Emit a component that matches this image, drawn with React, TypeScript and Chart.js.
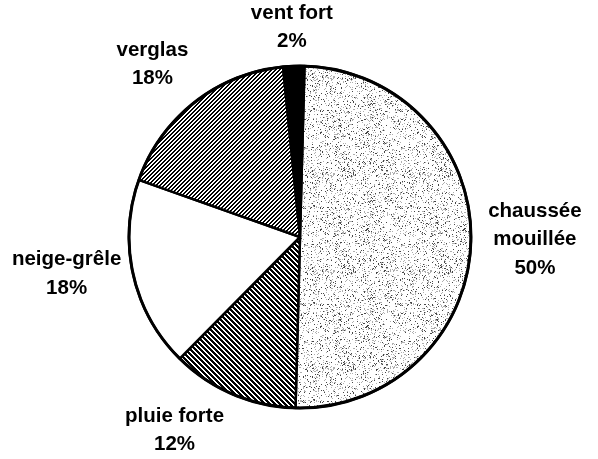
import React, { useEffect, useRef } from "react";
import { Chart, registerables } from "chart.js";

Chart.register(...registerables);

const categories: string[][] = [
  ["chaussée", "mouillée"],
  ["pluie forte"],
  ["neige-grêle"],
  ["verglas"],
  ["vent fort"],
];
const values: number[] = [50, 12, 18, 18, 2];
const percentLabels: string[] = ["50%", "12%", "18%", "18%", "2%"];

function makeTile(size: number, fn: (x: number, y: number) => number): HTMLCanvasElement {
  const c = document.createElement("canvas");
  c.width = size;
  c.height = size;
  const ctx = c.getContext("2d")!;
  const img = ctx.createImageData(size, size);
  for (let y = 0; y < size; y++) {
    for (let x = 0; x < size; x++) {
      const v = fn(x, y);
      const i = (y * size + x) * 4;
      img.data[i] = v;
      img.data[i + 1] = v;
      img.data[i + 2] = v;
      img.data[i + 3] = 255;
    }
  }
  ctx.putImageData(img, 0, 0);
  return c;
}

function hash(x: number, y: number): number {
  const s = Math.sin(x * 12.9898 + y * 78.233) * 43758.5453;
  return s - Math.floor(s);
}

const labelNudges: [number, number][] = [
  [12, -3],
  [-38, -12],
  [-16, -13],
  [-10, 3],
  [0, 13],
];

const labelPlugin = {
  id: "outerLabels",
  afterDatasetsDraw(chart: any) {
    const ctx = chart.ctx;
    const meta = chart.getDatasetMeta(0);
    const arcs = meta.data;
    if (!arcs.length) return;
    const a0 = arcs[0];
    ctx.save();
    ctx.beginPath();
    ctx.arc(a0.x, a0.y, a0.outerRadius, 0, Math.PI * 2);
    ctx.lineWidth = 3;
    ctx.strokeStyle = "#000";
    ctx.stroke();
    ctx.restore();

    ctx.save();
    ctx.font = "bold 20.5px 'Liberation Sans', Arial, sans-serif";
    ctx.fillStyle = "#000";
    ctx.textAlign = "center";
    ctx.textBaseline = "middle";
    const lh = 28.5;
    arcs.forEach((arc: any, i: number) => {
      const mid = (arc.startAngle + arc.endAngle) / 2;
      const r = arc.outerRadius + 52;
      const cx = arc.x + Math.cos(mid) * r + labelNudges[i][0];
      const cy = arc.y + Math.sin(mid) * r + labelNudges[i][1];
      const lines = [...chart.data.labels[i], percentLabels[i]];
      const top = cy - ((lines.length - 1) * lh) / 2;
      lines.forEach((t: string, k: number) => ctx.fillText(t, cx, top + k * lh));
    });
    ctx.restore();
  },
};

export default function App() {
  const ref = useRef<HTMLCanvasElement | null>(null);
  useEffect(() => {
    const canvas = ref.current!;
    const stipple = makeTile(97, (x, y) => {
      const h = hash(x, y);
      const g = hash(Math.floor(x / 7), Math.floor(y / 7));
      const thr = 0.12 + g * 0.12;
      if (h < thr * 0.35) return 70;
      if (h < thr) return 175;
      return 255;
    });
    const pluie = makeTile(40, (x, y) => ((((x - y) % 5) + 5) % 5 < 3 ? 0 : 255));
    const verglas = makeTile(40, (x, y) => ((x + y) % 4 < 2 ? 0 : 255));
    const ctx = canvas.getContext("2d")!;
    const fills = [
      ctx.createPattern(stipple, "repeat"),
      ctx.createPattern(pluie, "repeat"),
      "#ffffff",
      ctx.createPattern(verglas, "repeat"),
      "#000000",
    ];
    const chart = new Chart(canvas, {
      type: "pie",
      data: {
        labels: categories as any,
        datasets: [
          {
            data: values,
            backgroundColor: fills as any,
            borderColor: "#000",
            borderWidth: 2.5,
            radius: 171,
          } as any,
        ],
      },
      options: {
        animation: false,
        responsive: false,
        events: [],
        rotation: 1.5,
        layout: { padding: { top: 15, left: 2 } },
        plugins: {
          legend: { display: false },
          tooltip: { enabled: false },
        },
      },
      plugins: [labelPlugin],
    });
    return () => chart.destroy();
  }, []);
  return (
    <div style={{ position: "absolute", left: 0, top: 0, width: 598, height: 459, background: "#fff" }}>
      <canvas ref={ref} width={598} height={459} style={{ display: "block" }} />
    </div>
  );
}
